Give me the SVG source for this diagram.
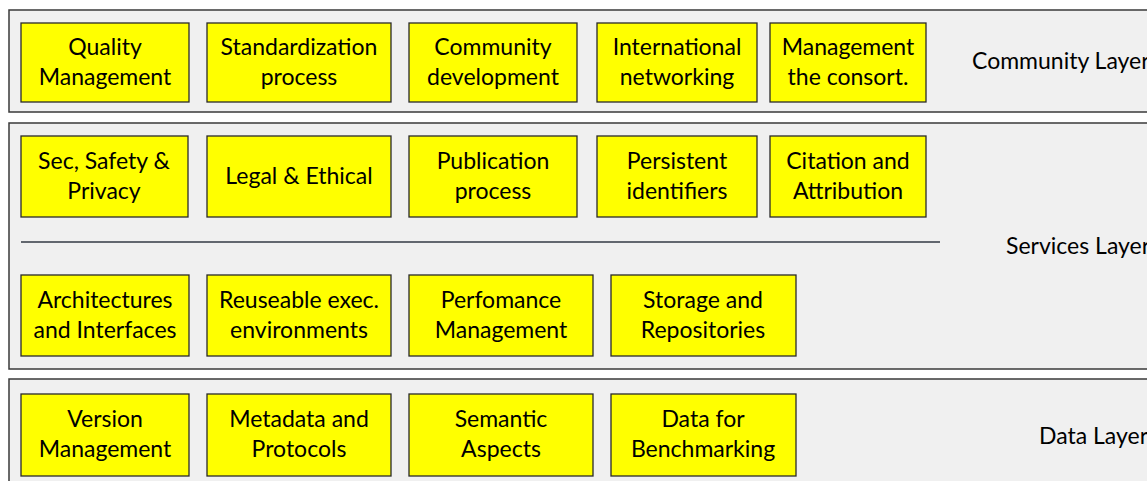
<svg xmlns="http://www.w3.org/2000/svg" width="1147" height="481" viewBox="0 0 1147 481">
  <style>
    .layer { fill: #f0f0f0; stroke: #3a3a3a; stroke-width: 1.5; }
    .box { fill: #ffff00; stroke: #2a2a2a; stroke-width: 1.3; }
    text { font-family: Lato, "Liberation Sans", sans-serif; font-size: 23px; fill: #000; }
    .c { text-anchor: middle; }
    .sep { stroke: #333a44; stroke-width: 1.5; }
  </style>
  <rect width="1147" height="481" fill="#ffffff"/>

  <!-- layer panels -->
  <g id="community-layer">
    <rect class="layer" x="9" y="10" width="1150" height="102"/>
    <text x="972" y="69">Community Layer</text>
  </g>
  <g id="services-layer">
    <rect class="layer" x="9" y="123" width="1150" height="246"/>
    <text x="1006" y="254">Services Layer</text>
  </g>
  <g id="data-layer">
    <rect class="layer" x="9" y="379" width="1150" height="110"/>
    <text x="1039" y="444">Data Layer</text>
  </g>

  <!-- divider inside the services layer -->
  <g id="connectors">
    <line class="sep" x1="21" y1="242" x2="940" y2="242"/>
  </g>

  <!-- community layer row -->
  <g id="quality-management"><rect class="box" x="21" y="23" width="168" height="79"/><text class="c" x="105" y="55">Quality</text><text class="c" x="105" y="85">Management</text></g>
  <g id="standardization-process"><rect class="box" x="207" y="23" width="184" height="79"/><text class="c" x="299" y="55">Standardization</text><text class="c" x="299" y="85">process</text></g>
  <g id="community-development"><rect class="box" x="409" y="23" width="168" height="79"/><text class="c" x="493" y="55">Community</text><text class="c" x="493" y="85">development</text></g>
  <g id="international-networking"><rect class="box" x="597" y="23" width="160" height="79"/><text class="c" x="677" y="55">International</text><text class="c" x="677" y="85">networking</text></g>
  <g id="management-consortium"><rect class="box" x="770" y="23" width="156" height="79"/><text class="c" x="848" y="55">Management</text><text class="c" x="848" y="85">the consort.</text></g>

  <!-- services layer, upper row -->
  <g id="sec-safety-privacy"><rect class="box" x="21" y="136" width="167" height="81"/><text class="c" x="104" y="169">Sec, Safety &amp;</text><text class="c" x="104" y="199">Privacy</text></g>
  <g id="legal-ethical"><rect class="box" x="207" y="136" width="184" height="81"/><text class="c" x="299" y="184">Legal &amp; Ethical</text></g>
  <g id="publication-process"><rect class="box" x="409" y="136" width="168" height="81"/><text class="c" x="493" y="169">Publication</text><text class="c" x="493" y="199">process</text></g>
  <g id="persistent-identifiers"><rect class="box" x="597" y="136" width="160" height="81"/><text class="c" x="677" y="169">Persistent</text><text class="c" x="677" y="199">identifiers</text></g>
  <g id="citation-attribution"><rect class="box" x="770" y="136" width="156" height="81"/><text class="c" x="848" y="169">Citation and</text><text class="c" x="848" y="199">Attribution</text></g>

  <!-- services layer, lower row -->
  <g id="architectures-interfaces"><rect class="box" x="21" y="275" width="168" height="81"/><text class="c" x="105" y="308">Architectures</text><text class="c" x="105" y="338">and Interfaces</text></g>
  <g id="reuseable-environments"><rect class="box" x="207" y="275" width="184" height="81"/><text class="c" x="299" y="308">Reuseable exec.</text><text class="c" x="299" y="338">environments</text></g>
  <g id="perfomance-management"><rect class="box" x="409" y="275" width="184" height="81"/><text class="c" x="501" y="308">Perfomance</text><text class="c" x="501" y="338">Management</text></g>
  <g id="storage-repositories"><rect class="box" x="611" y="275" width="185" height="81"/><text class="c" x="703" y="308">Storage and</text><text class="c" x="703" y="338">Repositories</text></g>

  <!-- data layer row -->
  <g id="version-management"><rect class="box" x="21" y="394" width="168" height="82"/><text class="c" x="105" y="427">Version</text><text class="c" x="105" y="457">Management</text></g>
  <g id="metadata-protocols"><rect class="box" x="207" y="394" width="184" height="82"/><text class="c" x="299" y="427">Metadata and</text><text class="c" x="299" y="457">Protocols</text></g>
  <g id="semantic-aspects"><rect class="box" x="409" y="394" width="184" height="82"/><text class="c" x="501" y="427">Semantic</text><text class="c" x="501" y="457">Aspects</text></g>
  <g id="data-benchmarking"><rect class="box" x="611" y="394" width="185" height="82"/><text class="c" x="703" y="427">Data for</text><text class="c" x="703" y="457">Benchmarking</text></g>
</svg>
